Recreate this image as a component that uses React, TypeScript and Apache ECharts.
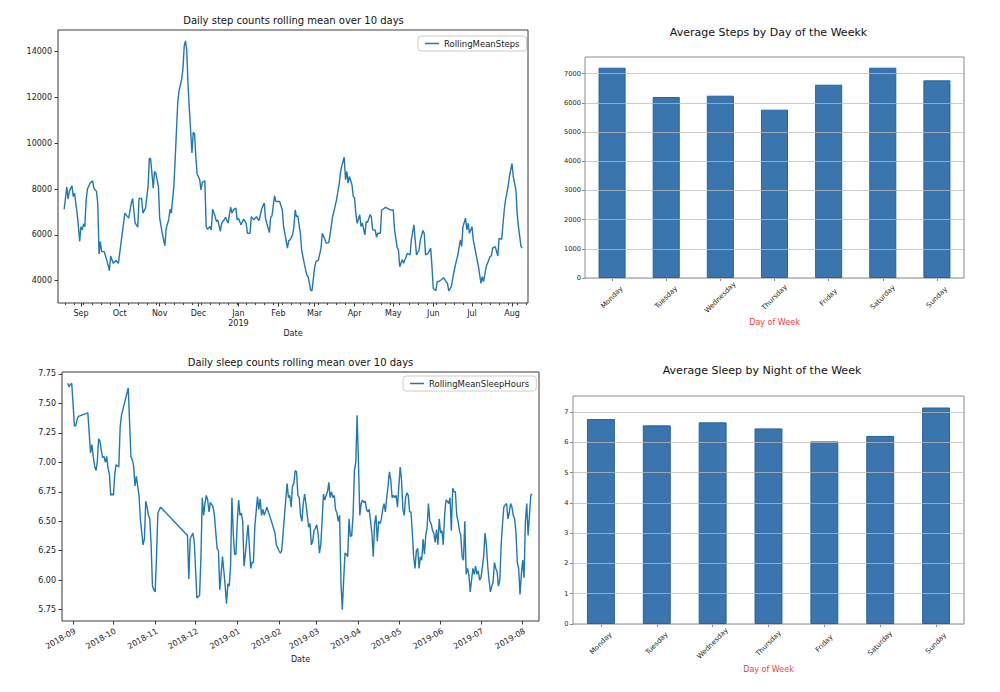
import React, { useEffect, useRef } from "react";
import * as echarts from "echarts";

const DAY = 86400000;
const ORIGIN = Date.UTC(2018, 8, 1); // day offsets below are counted from 2018-09-01
const FONT = "DejaVu Sans";

// [day offset from 2018-09-01, rolling mean steps]
const stepReadings: [number, number][] = [
  [-13, 7120], [-11, 8090], [-10, 7560], [-9, 7900], [-7, 8150], [-6, 7680], [-5, 7820], [-3, 6950], [-2, 6370], [-1, 5710],
  [0, 6360], [1, 6220], [2, 6480], [3, 6360], [4, 7530], [5, 8000], [6, 8120], [7, 8260], [9, 8360], [10, 8040],
  [12, 7900], [13, 7390], [14, 5170], [15, 5710], [16, 5270], [18, 5270], [20, 4900], [22, 4440], [23, 5080], [25, 4760],
  [27, 4880], [29, 4760], [30, 5200], [32, 6070], [34, 6950], [36, 6800], [37, 6730], [39, 7390], [40, 7590], [42, 6510],
  [44, 6340], [45, 7590], [47, 7590], [48, 6950], [50, 7170], [52, 8120], [53, 9360], [54, 9310], [56, 8040], [57, 8770],
  [58, 8700], [60, 8120], [61, 6730], [63, 6070], [65, 5520], [66, 6290], [68, 6660], [69, 7120], [70, 6950], [72, 8120],
  [73, 9300], [75, 11800], [76, 12300], [78, 12790], [79, 13230], [80, 14250], [81, 14470], [82, 14030], [83, 12500], [84, 11470],
  [86, 9580], [87, 10480], [88, 10420], [89, 9430], [90, 8670], [92, 8410], [93, 7970], [94, 8290], [96, 8360], [97, 6370],
  [98, 6250], [100, 6370], [101, 6220], [102, 7120], [104, 6800], [105, 6580], [106, 6660], [108, 6150], [109, 6510], [111, 6660],
  [112, 6770], [114, 6510], [116, 7210], [117, 6950], [118, 7090], [120, 7170], [121, 6660], [122, 6730], [124, 6440], [126, 6690],
  [128, 6510], [129, 6070], [131, 6070], [132, 6800], [134, 6660], [136, 6800], [137, 6690], [138, 6630], [140, 7120], [141, 7270],
  [142, 7390], [143, 6730], [144, 6510], [146, 6100], [147, 6770], [148, 6830], [150, 7710], [151, 7460], [153, 7460], [154, 7460],
  [156, 7090], [157, 6370], [158, 6070], [160, 5420], [161, 5750], [162, 5780], [164, 6000], [165, 6360], [166, 7090], [167, 6800],
  [168, 6830], [170, 6070], [171, 5340], [173, 4760], [175, 4250], [176, 4180], [178, 3590], [179, 3560], [181, 4540], [182, 4830],
  [184, 4900], [186, 5420], [187, 6070], [189, 5810], [190, 5640], [192, 5660], [193, 6000], [195, 6800], [196, 7020], [198, 7530],
  [200, 8190], [201, 8700], [202, 8990], [204, 9390], [205, 8410], [206, 8770], [207, 8260], [208, 8550], [210, 8190], [211, 7680],
  [212, 7610], [213, 6950], [214, 6510], [216, 6880], [217, 6370], [218, 6510], [220, 6000], [221, 6580], [222, 6540], [224, 6880],
  [225, 6800], [226, 6220], [228, 6220], [229, 5900], [230, 6070], [232, 6070], [233, 7090], [234, 7120], [236, 7210], [237, 7170],
  [240, 7090], [242, 7090], [243, 6220], [245, 5460], [246, 5340], [247, 4610], [249, 4930], [250, 4760], [252, 5050], [253, 5200],
  [255, 5120], [256, 5780], [258, 6440], [259, 5780], [260, 5120], [262, 5340], [263, 5780], [265, 6190], [266, 6070], [267, 5120],
  [269, 5200], [271, 5420], [272, 4610], [273, 3660], [275, 3560], [276, 3960], [277, 3960], [279, 4030], [281, 4130], [283, 3960],
  [284, 3880], [285, 3560], [287, 3740], [289, 4390], [291, 4900], [292, 5120], [294, 5780], [295, 5490], [296, 6360], [298, 6730],
  [299, 6220], [300, 6510], [301, 6070], [303, 6360], [304, 5780], [306, 5200], [308, 4610], [310, 3880], [311, 4180], [312, 3960],
  [314, 4610], [315, 4760], [317, 5050], [318, 5080], [319, 5420], [321, 5490], [323, 5080], [324, 5850], [326, 5810], [328, 7090],
  [329, 7530], [331, 8120], [332, 8550], [334, 9110], [335, 8550], [337, 7970], [338, 6950], [339, 6360], [341, 5490], [342, 5420],
];

// [day offset from 2018-09-01, rolling mean sleep hours]
const sleepReadings: [number, number][] = [
  [-4, 7.67], [-3, 7.64], [-2, 7.66], [-1, 7.67], [0, 7.5], [1, 7.31], [2, 7.31], [3, 7.36], [4, 7.39],
  [11, 7.42], [12, 7.25], [13, 7.08], [14, 7.15], [15, 7.05], [16, 6.97], [17, 6.93], [18, 7.0], [19, 7.2], [20, 7.18],
  [21, 7.1], [22, 7.04], [23, 7.05], [24, 7.0], [25, 7.05], [26, 6.95], [27, 6.9], [28, 6.72], [29, 6.73], [30, 6.72],
  [31, 6.9], [32, 6.98], [33, 6.97], [34, 6.96], [35, 7.3], [36, 7.4], [41, 7.63],
  [43, 7.05], [44, 7.02], [45, 6.97], [46, 6.8], [47, 6.88], [48, 6.8], [49, 6.72], [50, 6.52],
  [52, 6.3], [53, 6.35], [54, 6.67], [55, 6.62], [56, 6.55], [57, 6.52], [58, 6.3], [59, 5.95], [60, 5.92], [61, 5.9],
  [62, 6.2], [63, 6.57], [65, 6.62],
  [85, 6.38], [86, 6.01], [87, 6.35], [89, 6.4], [90, 6.33], [91, 6.1], [92, 5.85],
  [94, 5.87], [95, 6.2], [96, 6.7], [97, 6.55], [98, 6.65], [99, 6.72], [100, 6.68], [101, 6.58], [102, 6.66],
  [104, 6.62], [105, 6.55], [107, 6.27], [108, 6.25], [109, 5.92], [110, 6.05], [111, 6.2], [112, 6.08], [113, 5.95],
  [114, 5.8], [115, 5.97], [116, 5.95], [117, 6.12], [118, 6.7], [119, 6.4], [120, 6.22], [121, 6.22], [122, 6.5],
  [123, 6.68], [124, 6.55], [125, 6.57], [126, 6.5], [127, 6.12], [128, 6.22], [129, 6.35], [130, 6.47],
  [132, 6.1], [133, 6.15], [134, 6.15], [135, 6.45], [137, 6.71], [138, 6.6], [139, 6.69], [140, 6.55], [141, 6.6],
  [142, 6.55], [144, 6.62], [145, 6.58], [146, 6.55], [150, 6.4], [151, 6.3], [153, 6.25], [154, 6.23], [155, 6.25],
  [156, 6.4], [158, 6.68], [159, 6.82], [160, 6.7], [161, 6.72], [162, 6.62], [163, 6.8], [164, 6.82], [165, 6.93],
  [166, 6.92], [167, 6.72], [168, 6.7], [169, 6.55], [170, 6.5], [171, 6.65], [172, 6.73], [173, 6.65],
  [175, 6.45], [176, 6.48], [177, 6.3], [178, 6.33], [179, 6.42], [180, 6.44], [181, 6.47], [182, 6.4], [183, 6.23],
  [184, 6.3], [185, 6.5], [186, 6.73], [187, 6.68], [188, 6.72], [189, 6.75], [190, 6.83], [191, 6.7], [192, 6.75],
  [193, 6.7], [194, 6.72], [195, 6.6], [196, 6.57], [197, 6.5], [198, 6.55], [199, 5.98], [200, 5.75], [201, 6.0],
  [202, 6.23], [203, 6.22], [204, 6.2], [205, 6.52], [206, 6.37], [207, 6.38], [208, 6.55], [209, 6.93], [210, 7.0],
  [211, 7.4], [212, 7.0], [213, 6.55], [214, 6.65], [215, 6.68], [216, 6.66], [217, 6.67], [218, 6.6], [219, 6.58],
  [220, 6.6], [222, 6.4], [223, 6.2], [224, 6.48], [225, 6.55], [226, 6.33], [227, 6.5], [228, 6.48], [229, 6.52],
  [230, 6.6], [231, 6.65], [232, 6.58], [233, 6.7], [234, 6.8], [235, 6.92], [236, 6.85], [237, 6.7], [238, 6.72],
  [239, 6.7], [240, 6.72], [241, 6.62], [242, 6.8], [243, 6.96], [244, 6.85], [245, 6.6], [246, 6.55], [247, 6.7],
  [248, 6.74], [249, 6.72], [250, 6.58], [251, 6.58], [252, 6.4], [253, 6.2], [254, 6.1], [255, 6.25], [256, 6.27],
  [257, 6.1], [258, 6.2], [259, 6.17], [260, 6.35], [261, 6.22], [262, 6.38], [263, 6.45], [264, 6.65], [265, 6.5],
  [266, 6.48], [267, 6.42], [268, 6.4], [269, 6.32], [270, 6.43], [271, 6.3], [272, 6.52], [273, 6.4], [274, 6.42],
  [275, 6.3], [276, 6.55], [277, 6.68], [278, 6.67], [279, 6.65], [280, 6.7], [281, 6.42], [282, 6.78], [283, 6.75],
  [284, 6.75], [285, 6.55], [286, 6.5], [287, 6.42], [288, 6.38], [289, 6.2], [290, 6.17], [291, 6.5], [292, 6.05],
  [293, 6.1], [294, 6.05], [295, 5.9], [296, 6.0], [297, 6.1], [298, 6.05], [299, 6.12], [300, 6.05], [301, 6.08],
  [302, 6.0], [303, 6.02], [305, 6.2], [306, 6.4], [307, 6.3], [308, 6.12], [309, 6.0], [310, 5.9], [311, 5.95],
  [312, 5.98], [313, 6.15], [314, 6.1], [315, 6.07], [316, 5.95], [317, 6.0], [318, 6.3], [319, 6.48], [320, 6.62],
  [321, 6.64], [322, 6.65], [323, 6.52], [324, 6.57], [325, 6.65], [326, 6.62], [327, 6.55], [328, 6.52], [329, 6.4],
  [330, 6.15], [331, 6.1], [332, 5.88], [333, 6.05], [334, 6.17], [335, 6.02], [336, 6.5], [337, 6.65], [338, 6.38],
  [339, 6.55], [340, 6.72], [341, 6.73],
];

const monthTickDates = [
  "2018-09-01", "2018-10-01", "2018-11-01", "2018-12-01", "2019-01-01", "2019-02-01",
  "2019-03-01", "2019-04-01", "2019-05-01", "2019-06-01", "2019-07-01", "2019-08-01",
];
const stepMonthLabels = ["Sep", "Oct", "Nov", "Dec", "Jan\n2019", "Feb", "Mar", "Apr", "May", "Jun", "Jul", "Aug"];
const sleepMonthLabels = [
  "2018-09", "2018-10", "2018-11", "2018-12", "2019-01", "2019-02",
  "2019-03", "2019-04", "2019-05", "2019-06", "2019-07", "2019-08",
];
const stepYTicks = [4000, 6000, 8000, 10000, 12000, 14000];
const sleepYTicks = [5.75, 6.0, 6.25, 6.5, 6.75, 7.0, 7.25, 7.5, 7.75];
const firstMinorTickDate = "2018-08-13";

const weekdays = ["Monday", "Tuesday", "Wednesday", "Thursday", "Friday", "Saturday", "Sunday"];
const avgStepsByDay = [7205, 6200, 6246, 5767, 6623, 7205, 6772];
const avgSleepByNight = [6.77, 6.56, 6.66, 6.46, 6.03, 6.21, 7.15];
const stepBarTicks = [0, 1000, 2000, 3000, 4000, 5000, 6000, 7000];
const sleepBarTicks = [0, 1, 2, 3, 4, 5, 6, 7];

const LINE_COLOR = "#1f77b4";
const BAR_COLOR = "#3a75ae";
const DARK_FRAME = "#3a3a3a";
const GRAY_FRAME = "#8a8a8a";
const LABEL_COLOR = "#222";

const toTs = (s: string) => new Date(s + "T00:00:00Z").getTime();
const monthTicks = monthTickDates.map(toTs);

const nearestLabel = (labels: string[]) => (v: number) => {
  let best = -1;
  let bestD = Infinity;
  monthTicks.forEach((t, i) => {
    const d = Math.abs(t - v);
    if (d < bestD) {
      bestD = d;
      best = i;
    }
  });
  return bestD < DAY ? labels[best] : "";
};

export default function App() {
  const ref = useRef<HTMLDivElement>(null);

  useEffect(() => {
    if (!ref.current) return;
    const chart = echarts.init(ref.current, undefined, { renderer: "svg" });

    const stepData = stepReadings.map(([d, v]) => [ORIGIN + d * DAY, v]);
    const sleepData = sleepReadings.map(([d, v]) => [ORIGIN + d * DAY, v]);

    const stepXMin = ORIGIN - 17.8 * DAY;
    const stepXMax = ORIGIN + 346.4 * DAY;
    const sleepXMin = ORIGIN - 8.2 * DAY;
    const sleepXMax = ORIGIN + 346.1 * DAY;

    const minorTicks: number[] = [];
    for (let t = toTs(firstMinorTickDate); t <= stepXMax; t += 7 * DAY) {
      if (t >= stepXMin) minorTicks.push(t);
    }

    const tickLabel = (size: number) => ({
      color: LABEL_COLOR,
      fontFamily: FONT,
      fontSize: size,
    });

    const title = (text: string, x: number, y: number, size: number) => ({
      type: "text",
      x,
      y,
      silent: true,
      style: {
        text,
        align: "center",
        verticalAlign: "middle",
        fontFamily: FONT,
        fontSize: size,
        fill: "#111",
      },
    });

    const legendBase = {
      orient: "vertical",
      itemWidth: 14,
      itemHeight: 1.5,
      padding: [3, 7, 3, 7],
      borderColor: "#cccccc",
      borderWidth: 1,
      borderRadius: 3,
      backgroundColor: "rgba(255,255,255,0.85)",
      selectedMode: false,
      textStyle: { color: LABEL_COLOR, fontFamily: FONT, fontSize: 8.5 },
    };

    const option: any = {
      animation: false,
      backgroundColor: "#ffffff",
      textStyle: { fontFamily: FONT },
      graphic: [
        title("Daily step counts rolling mean over 10 days", 293.5, 20, 10),
        title("Average Steps by Day of the Weekk", 768.5, 32.3, 11),
        title("Daily sleep counts rolling mean over 10 days", 300.5, 362.3, 10),
        title("Average Sleep by Night of the Week", 762, 370, 11),
      ],
      legend: [
        { ...legendBase, data: [{ name: "RollingMeanSteps", icon: "rect" }], left: 418, top: 36 },
        { ...legendBase, data: [{ name: "RollingMeanSleepHours", icon: "rect" }], left: 403, top: 376 },
      ],
      grid: [
        { left: 58, top: 30, width: 470, height: 273, show: true, borderColor: DARK_FRAME, borderWidth: 1 },
        { left: 585, top: 57, width: 379, height: 221, show: true, borderColor: GRAY_FRAME, borderWidth: 1 },
        { left: 62, top: 372, width: 477, height: 249, show: true, borderColor: DARK_FRAME, borderWidth: 1 },
        { left: 573, top: 396, width: 391, height: 228, show: true, borderColor: GRAY_FRAME, borderWidth: 1 },
      ],
      xAxis: [
        {
          gridIndex: 0,
          type: "value",
          position: "bottom",
          min: stepXMin,
          max: stepXMax,
          axisLine: { show: false, onZero: false },
          splitLine: { show: false },
          axisTick: { show: true, length: 3.5, lineStyle: { color: DARK_FRAME }, customValues: monthTicks },
          axisLabel: {
            ...tickLabel(8),
            margin: 5,
            lineHeight: 10.5,
            customValues: monthTicks,
            formatter: nearestLabel(stepMonthLabels),
          },
          name: "Date",
          nameLocation: "middle",
          nameGap: 26,
          nameTextStyle: tickLabel(8),
        },
        {
          gridIndex: 0,
          type: "value",
          position: "bottom",
          min: stepXMin,
          max: stepXMax,
          axisLine: { show: false, onZero: false },
          splitLine: { show: false },
          axisLabel: { show: false },
          axisTick: { show: true, length: 2, lineStyle: { color: DARK_FRAME }, customValues: minorTicks },
        },
        {
          gridIndex: 1,
          type: "category",
          data: weekdays,
          axisLine: { show: false },
          axisTick: { show: true, alignWithLabel: true, length: 3, lineStyle: { color: GRAY_FRAME } },
          axisLabel: {
            ...tickLabel(7),
            rotate: 45,
            align: "center",
            verticalAlign: "middle",
            margin: 19.5,
            interval: 0,
          },
          name: "Day of Week",
          nameLocation: "middle",
          nameGap: 40,
          nameTextStyle: { color: "#f03c3c", fontFamily: FONT, fontSize: 8 },
        },
        {
          gridIndex: 2,
          type: "value",
          min: sleepXMin,
          max: sleepXMax,
          axisLine: { show: false, onZero: false },
          splitLine: { show: false },
          axisTick: { show: true, length: 3.5, lineStyle: { color: DARK_FRAME }, customValues: monthTicks },
          axisLabel: {
            ...tickLabel(8),
            rotate: 30,
            align: "right",
            verticalAlign: "top",
            margin: 6,
            overflow: "none",
            hideOverlap: false,
            customValues: monthTicks,
            formatter: nearestLabel(sleepMonthLabels),
          },
          name: "Date",
          nameLocation: "middle",
          nameGap: 34,
          nameTextStyle: tickLabel(8),
        },
        {
          gridIndex: 3,
          type: "category",
          data: weekdays,
          axisLine: { show: false },
          axisTick: { show: true, alignWithLabel: true, length: 3, lineStyle: { color: GRAY_FRAME } },
          axisLabel: {
            ...tickLabel(7),
            rotate: 45,
            align: "center",
            verticalAlign: "middle",
            margin: 19.5,
            interval: 0,
          },
          name: "Day of Week",
          nameLocation: "middle",
          nameGap: 41.5,
          nameTextStyle: { color: "#f03c3c", fontFamily: FONT, fontSize: 8 },
        },
      ],
      yAxis: [
        {
          gridIndex: 0,
          type: "value",
          min: 3026,
          max: 14948,
          axisLine: { show: false, onZero: false },
          splitLine: { show: false },
          axisTick: { show: true, length: 3.5, lineStyle: { color: DARK_FRAME }, customValues: stepYTicks },
          axisLabel: { ...tickLabel(8), margin: 6, customValues: stepYTicks, formatter: (v: number) => String(v) },
        },
        {
          gridIndex: 1,
          type: "value",
          min: 0,
          max: 7572,
          interval: 1000,
          z: 3,
          axisLine: { show: false, onZero: false },
          splitLine: { show: true, lineStyle: { color: "rgba(185,185,185,0.75)", width: 1 } },
          axisTick: { show: true, length: 3, lineStyle: { color: GRAY_FRAME }, customValues: stepBarTicks },
          axisLabel: { ...tickLabel(6.7), margin: 4, customValues: stepBarTicks, formatter: (v: number) => String(v) },
        },
        {
          gridIndex: 2,
          type: "value",
          min: 5.654,
          max: 7.766,
          axisLine: { show: false, onZero: false },
          splitLine: { show: false },
          axisTick: { show: true, length: 3.5, lineStyle: { color: DARK_FRAME }, customValues: sleepYTicks },
          axisLabel: {
            ...tickLabel(8),
            margin: 6,
            customValues: sleepYTicks,
            formatter: (v: number) => v.toFixed(2),
          },
        },
        {
          gridIndex: 3,
          type: "value",
          min: 0,
          max: 7.53,
          interval: 1,
          z: 3,
          axisLine: { show: false, onZero: false },
          splitLine: { show: true, lineStyle: { color: "rgba(185,185,185,0.75)", width: 1 } },
          axisTick: { show: true, length: 3, lineStyle: { color: GRAY_FRAME }, customValues: sleepBarTicks },
          axisLabel: { ...tickLabel(6.7), margin: 4.5, customValues: sleepBarTicks, formatter: (v: number) => String(v) },
        },
      ],
      series: [
        {
          name: "RollingMeanSteps",
          type: "line",
          xAxisIndex: 0,
          yAxisIndex: 0,
          data: stepData,
          symbol: "none",
          lineStyle: { color: LINE_COLOR, width: 1.4 },
          itemStyle: { color: LINE_COLOR },
        },
        {
          type: "bar",
          xAxisIndex: 2,
          yAxisIndex: 1,
          data: avgStepsByDay,
          barWidth: "50%",
          itemStyle: { color: BAR_COLOR, borderColor: "#2563a0", borderWidth: 1 },
        },
        {
          name: "RollingMeanSleepHours",
          type: "line",
          xAxisIndex: 3,
          yAxisIndex: 2,
          data: sleepData,
          symbol: "none",
          lineStyle: { color: LINE_COLOR, width: 1.4 },
          itemStyle: { color: LINE_COLOR },
        },
        {
          type: "bar",
          xAxisIndex: 4,
          yAxisIndex: 3,
          data: avgSleepByNight,
          barWidth: "50%",
          itemStyle: { color: BAR_COLOR, borderColor: "#2563a0", borderWidth: 1 },
        },
      ],
    };

    chart.setOption(option);
    return () => chart.dispose();
  }, []);

  return (
    <div
      ref={ref}
      style={{ position: "fixed", left: 0, top: 0, width: 1000, height: 692, background: "#fff" }}
    />
  );
}
